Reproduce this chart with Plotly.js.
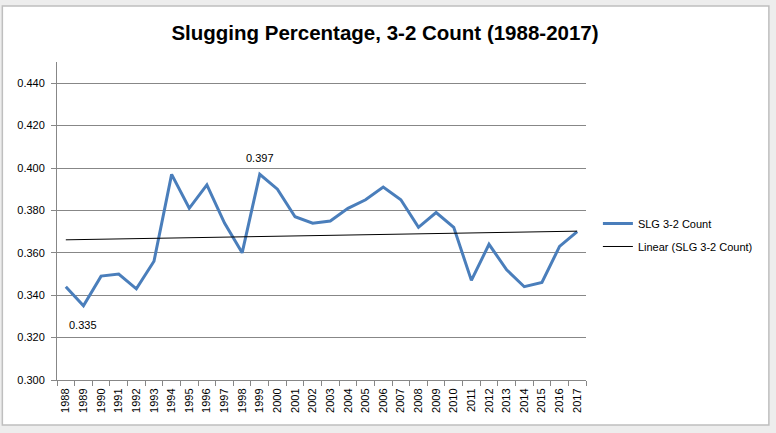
<!DOCTYPE html>
<html>
<head>
<meta charset="utf-8">
<script src="https://cdn.plot.ly/plotly-3.0.1.min.js"></script>
<style>
  html, body { margin: 0; padding: 0; background: #ededed; }
  #chart { width: 776px; height: 433px; }
</style>
</head>
<body>
<div id="chart"></div>
<script>
// Slugging percentage on 3-2 counts
var years = ['1988','1989','1990','1991','1992','1993','1994','1995','1996','1997',
             '1998','1999','2000','2001','2002','2003','2004','2005','2006','2007',
             '2008','2009','2010','2011','2012','2013','2014','2015','2016','2017']

var slg = [0.344,0.335,0.349,0.350,0.343,0.356,0.397,0.381,0.392,0.374,
           0.360,0.397,0.390,0.377,0.374,0.375,0.381,0.385,0.391,0.385,
           0.372,0.379,0.372,0.347,0.364,0.352,0.344,0.346,0.363,0.370]

var yTicks = [0.300,0.320,0.340,0.360,0.380,0.400,0.420,0.440]

//Least squares fit for the "Linear" trendline
function linearFit(vals){
    let n = vals.length, sx = 0, sy = 0, sxy = 0, sxx = 0
    for(let i = 0; i < n; i++){
        sx += i; sy += vals[i]; sxy += i*vals[i]; sxx += i*i
    }
    let b = (n*sxy - sx*sy) / (n*sxx - sx*sx)
    let a = (sy - b*sx) / n
    return vals.map(function(v, i){ return a + b*i })
}

var trend = linearFit(slg)

//Data labels shown on the chart (max and min)
var iMax = years.indexOf('1999')
var iMin = years.indexOf('1989')

var fontFam = '"Liberation Sans", Arial, sans-serif'

let dataline = {
    x: years,
    y: slg,
    mode: 'lines',
    name: 'SLG 3-2 Count',
    legendgroup: 'a',
    line: {color: '#4a7ebb', width: 3}
}

let trendline = {
    x: years,
    y: trend,
    mode: 'lines',
    name: 'Linear (SLG 3-2 Count)',
    legendgroup: 'b',
    line: {color: '#000000', width: 1}
}

let layout = {
    width: 776,
    height: 433,
    margin: {l: 57, r: 190, t: 62, b: 53},
    paper_bgcolor: '#ededed',
    plot_bgcolor: 'rgba(0,0,0,0)',
    font: {family: fontFam, size: 11, color: '#000'},
    title: {
        text: '<b>Slugging Percentage, 3-2 Count (1988-2017)</b>',
        font: {family: fontFam, size: 20.5, color: '#000'},
        xref: 'paper', x: 0.62, xanchor: 'center',
        yref: 'container', y: 0.924, yanchor: 'middle'
    },
    xaxis: {
        type: 'category',
        range: [-0.5, years.length - 0.5],
        tickson: 'boundaries',
        ticks: 'outside',
        ticklen: 5,
        tickcolor: '#878787',
        tickangle: -90,
        ticklabelstandoff: 3,
        showgrid: false,
        showline: true,
        linecolor: '#878787',
        linewidth: 1,
        tickfont: {size: 11},
        fixedrange: true
    },
    yaxis: {
        range: [0.30, 0.45],
        tickvals: yTicks,
        tickformat: '.3f',
        ticks: 'outside',
        ticklen: 5,
        tickcolor: '#878787',
        ticklabelstandoff: 4,
        showgrid: true,
        gridcolor: '#878787',
        gridwidth: 1,
        showline: true,
        linecolor: '#878787',
        zeroline: false,
        tickfont: {size: 11},
        fixedrange: true
    },
    legend: {
        x: 1.0225, xanchor: 'left',
        y: 0.456, yanchor: 'middle',
        traceorder: 'grouped',
        tracegroupgap: 4,
        font: {size: 11},
        bgcolor: 'rgba(0,0,0,0)'
    },
    annotations: [
        {x: iMax, y: slg[iMax], text: slg[iMax].toFixed(3), showarrow: false, yshift: 16, font: {size: 11}},
        {x: iMin, y: slg[iMin], text: slg[iMin].toFixed(3), showarrow: false, yshift: -19, font: {size: 11}}
    ],
    shapes: [
        //white chart area with the grey Excel frame
        {type: 'rect', xref: 'paper', yref: 'paper', layer: 'below',
         x0: -0.1033, x1: 1.3457, y0: -0.1415, y1: 1.1761,
         fillcolor: '#ffffff', line: {color: '#bfbfbf', width: 1.5}}
    ]
}

Plotly.newPlot('chart', [dataline, trendline], layout, {displayModeBar: false, staticPlot: true})
</script>
</body>
</html>
